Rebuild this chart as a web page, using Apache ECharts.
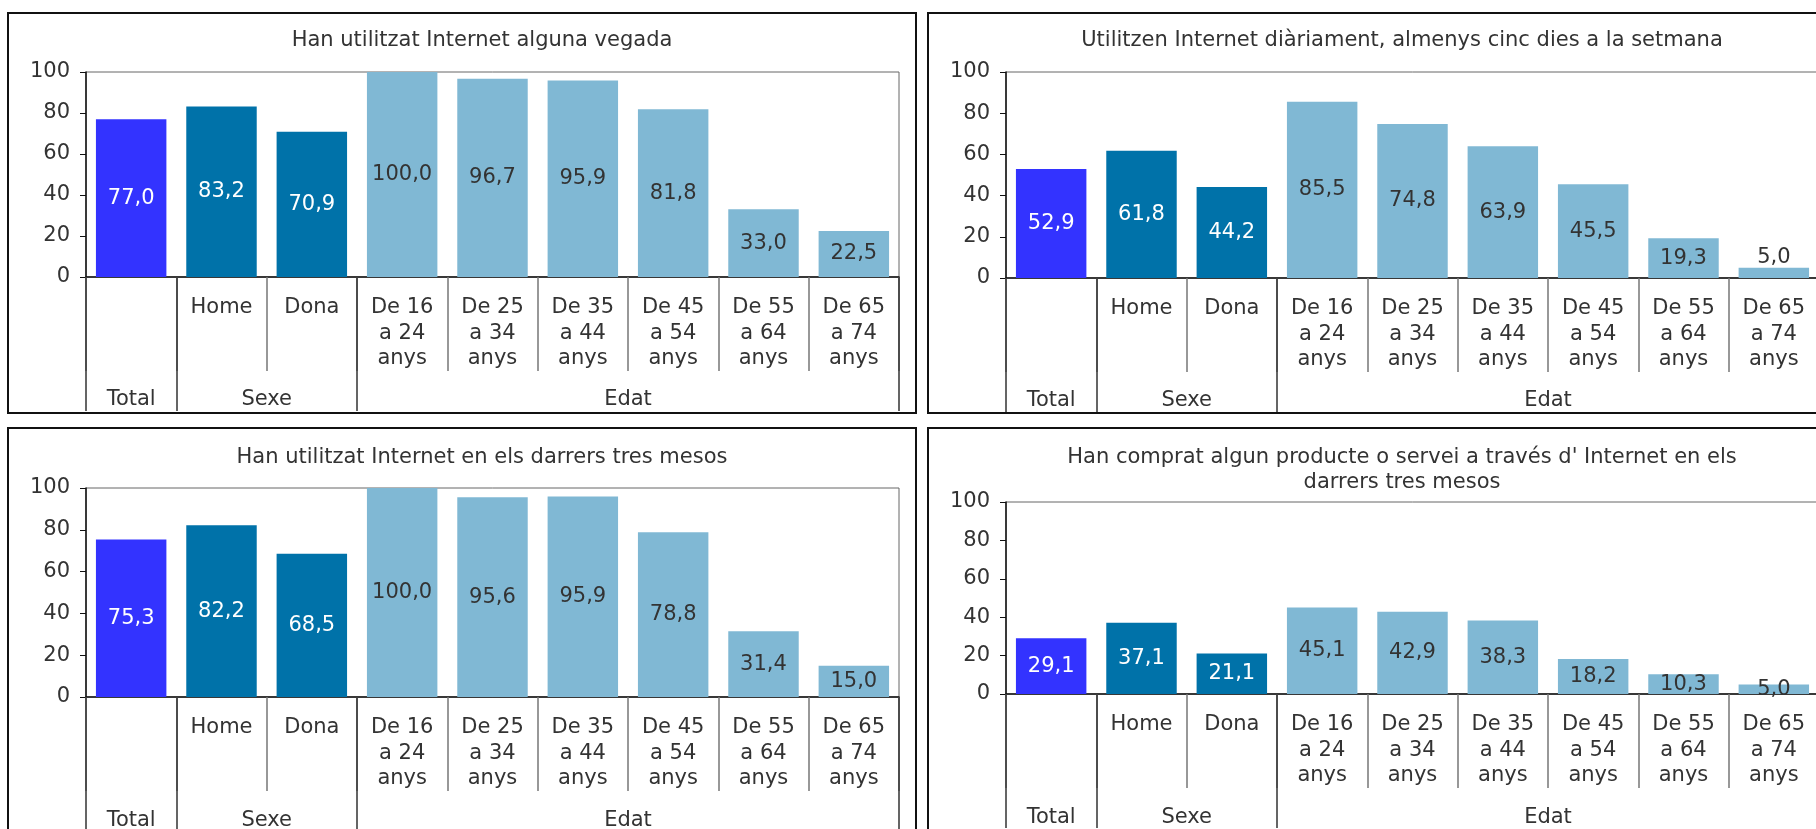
<!DOCTYPE html>
<html><head><meta charset="utf-8">
<script src="https://cdn.jsdelivr.net/npm/echarts@6/dist/echarts.min.js"></script>
<style>html,body{margin:0;padding:0;overflow:hidden;background:#fff}#c{width:1850px;height:860px}</style>
</head><body><div id="c"></div>
<script>
// ---- data ----
const innerLabels = ['', 'Home', 'Dona', 'De 16\na 24\nanys', 'De 25\na 34\nanys', 'De 35\na 44\nanys', 'De 45\na 54\nanys', 'De 55\na 64\nanys', 'De 65\na 74\nanys'];
const groupLabels = ['Total', 'Sexe', 'Edat'];
const groupSpans = [1, 2, 6];
const yTickMax = 100;
const yTickStep = 20;
const titleEver = 'Han utilitzat Internet alguna vegada';
const titleDaily = 'Utilitzen Internet diàriament, almenys cinc dies a la setmana';
const titleLast3 = 'Han utilitzat Internet en els darrers tres mesos';
const titleBought = "Han comprat algun producte o servei a través d' Internet en els\ndarrers tres mesos";
const valsEver = [77.0, 83.2, 70.9, 100.0, 96.7, 95.9, 81.8, 33.0, 22.5];
const valsDaily = [52.9, 61.8, 44.2, 85.5, 74.8, 63.9, 45.5, 19.3, 5.0];
const valsLast3 = [75.3, 82.2, 68.5, 100.0, 95.6, 95.9, 78.8, 31.4, 15.0];
const valsBought = [29.1, 37.1, 21.1, 45.1, 42.9, 38.3, 18.2, 10.3, 5.0];

// ---- derived ----
const bounds = [0];
groupSpans.forEach(s => bounds.push(bounds[bounds.length - 1] + s));
const centers = groupSpans.map((s, i) => bounds[i] + s / 2);
const groupOf = [];
groupSpans.forEach((s, g) => { for (let k = 0; k < s; k++) groupOf.push(g); });

const FONT = 'DejaVu Sans';
const FS = 21;
const TXT = '#333333';
const groupColors = ['#3333ff', '#0072a9', '#80b8d4'];
const labelColors = ['#ffffff', '#ffffff', '#333333'];

const panels = [
  {title: titleEver, vals: valsEver, tx: 482, ty: 28, box: [8, 13, 908, 400], grid: {left: 86, top: 72, width: 813, height: 205}, topLabel: [], outerMargin: 112},
  {title: titleDaily, vals: valsDaily, tx: 1402, ty: 28, box: [928, 13, 908, 400], grid: {left: 1006, top: 72, width: 813, height: 206}, topLabel: [8], outerMargin: 112},
  {title: titleLast3, vals: valsLast3, tx: 482, ty: 445, box: [8, 428, 908, 420], grid: {left: 86, top: 488, width: 813, height: 209}, topLabel: [], outerMargin: 113},
  {title: titleBought, vals: valsBought, tx: 1402, ty: 445, box: [928, 428, 908, 420], grid: {left: 1006, top: 502, width: 813, height: 192}, topLabel: [], outerMargin: 113}
];

const fmt = v => v.toFixed(1).replace('.', ',');

const option = {
  animation: false,
  backgroundColor: '#ffffff',
  textStyle: {fontFamily: FONT},
  title: [], grid: [], xAxis: [], yAxis: [], series: [], graphic: []
};

panels.forEach((p, i) => {
  option.graphic.push({type: 'rect', shape: {x: p.box[0], y: p.box[1], width: p.box[2], height: p.box[3]}, style: {fill: 'none', stroke: '#111', lineWidth: 2}, silent: true});
  option.title.push({text: p.title, left: p.tx, top: p.ty, textAlign: 'center', padding: 0,
    textStyle: {fontFamily: FONT, fontSize: FS, fontWeight: 'normal', color: TXT, lineHeight: 25}});
  option.grid.push(Object.assign({show: true, borderColor: '#666', borderWidth: 1, containLabel: false}, p.grid));
  option.xAxis.push({
    type: 'category', gridIndex: i, data: innerLabels, position: 'bottom',
    axisLine: {show: true, lineStyle: {color: '#111', width: 1.5}},
    axisTick: {show: true, interval: 0, length: 94, lineStyle: {color: '#777', width: 1.5}},
    axisLabel: {interval: 0, fontFamily: FONT, fontSize: FS, lineHeight: 25.5, color: TXT, margin: 18},
    splitLine: {show: false}
  });
  option.xAxis.push({
    type: 'value', gridIndex: i, min: 0, max: bounds[bounds.length - 1], position: 'bottom',
    axisLine: {show: false},
    axisTick: {show: true, customValues: bounds, length: 134, lineStyle: {color: '#333', width: 1.5}},
    axisLabel: {show: true, customValues: centers, fontFamily: FONT, fontSize: FS, color: TXT, margin: p.outerMargin,
      formatter: v => { const k = centers.findIndex(c => Math.abs(c - v) < 1e-6); return k >= 0 ? groupLabels[k] : ''; }},
    splitLine: {show: false}
  });
  option.yAxis.push({
    type: 'value', gridIndex: i, min: 0, max: yTickMax, interval: yTickStep,
    axisLine: {show: true, lineStyle: {color: '#111', width: 1.5}},
    axisTick: {show: true, length: 6, lineStyle: {color: '#111'}},
    axisLabel: {fontFamily: FONT, fontSize: FS, color: TXT, margin: 16},
    splitLine: {show: false}
  });
  option.series.push({
    type: 'bar', xAxisIndex: 2 * i, yAxisIndex: i, barCategoryGap: '22%',
    data: p.vals.map((v, k) => ({
      value: v,
      itemStyle: {color: groupColors[groupOf[k]]},
      label: p.topLabel.includes(k)
        ? {position: 'top', distance: 0, color: TXT}
        : {color: labelColors[groupOf[k]]}
    })),
    label: {show: true, position: 'inside', fontFamily: FONT, fontSize: FS, formatter: d => fmt(d.value)}
  });
});

const chart = echarts.init(document.getElementById('c'), null, {renderer: 'canvas'});
chart.setOption(option);
</script>
</body></html>
